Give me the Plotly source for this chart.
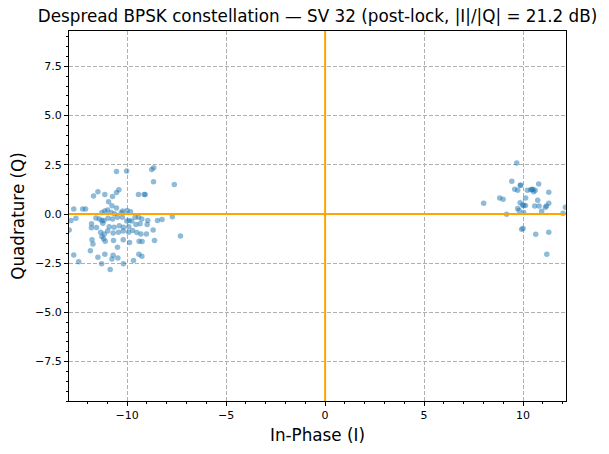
import plotly.graph_objects as go

# In-phase / quadrature samples, negative-bit cluster
i_neg = [-10.54, -10.03, -8.76, -8.66, -8.67, -7.62, -11.70, -11.48, -11.13, -10.54,
         -10.42, -10.74, -9.43, -9.14, -9.09, -10.94, -10.77, -12.25, -12.10, -12.70,
         -11.13, -10.99, -10.54, -10.22, -10.00, -9.83, -11.28, -10.81, -10.64, -10.30,
         -12.84, -12.59, -11.58, -11.41, -11.28, -11.18, -10.97, -10.74, -10.49, -10.24,
         -10.02, -9.90, -9.77, -9.60, -9.43, -9.26, -8.96, -8.47, -8.24, -7.72,
         -11.80, -11.23, -10.91, -10.66, -10.40, -10.19, -9.92, -9.56, -9.35, -8.99,
         -11.81, -11.55, -11.34, -11.16, -10.99, -10.71, -10.44, -10.20, -9.93, -9.73,
         -9.51, -9.31, -9.03, -8.69, -12.93, -11.78, -11.73, -11.28, -11.19, -11.11,
         -10.69, -10.20, -9.88, -9.40, -9.25, -8.62, -7.31, -11.86, -11.48, -11.13,
         -10.77, -10.71, -10.49, -10.47, -10.19, -9.68, -9.41, -9.26, -12.70, -12.45,
         -11.29, -10.86]
q_neg = [2.16, 2.19, 2.26, 2.35, 1.64, 1.50, 0.92, 1.13, 0.99, 1.09,
         1.23, 0.89, 0.99, 0.99, 0.99, 0.62, 0.42, 0.26, 0.26, 0.25,
         0.16, 0.21, 0.31, 0.16, 0.18, 0.11, 0.08, 0.08, 0.01, 0.08,
         -0.33, -0.21, -0.20, -0.25, -0.33, -0.33, -0.21, -0.25, -0.16, -0.16,
         -0.36, -0.33, -0.36, -0.16, -0.16, -0.25, -0.33, -0.33, -0.28, -0.14,
         -0.50, -0.47, -0.64, -0.67, -0.60, -0.67, -0.64, -0.53, -0.50, -0.53,
         -0.70, -0.69, -0.92, -1.01, -0.86, -0.97, -0.92, -0.86, -0.92, -0.84,
         -0.94, -1.01, -1.01, -0.81, -0.81, -1.31, -1.52, -1.14, -1.26, -1.38,
         -1.35, -1.31, -1.45, -1.38, -1.40, -1.35, -1.11, -1.86, -2.19, -2.04,
         -2.28, -2.09, -1.69, -2.23, -2.53, -2.36, -2.04, -2.14, -2.08, -2.42,
         -2.53, -2.82]

# Positive-bit cluster
i_pos = [9.68, 9.43, 9.88, 9.58, 9.73, 10.22, 10.39, 10.49, 10.54, 10.61,
         10.79, 11.30, 8.82, 8.99, 8.01, 10.13, 9.85, 10.12, 9.98, 9.73,
         9.80, 10.03, 10.74, 10.59, 10.81, 11.13, 11.18, 11.30, 10.94, 9.17,
         10.00, 9.93, 10.64, 11.30, 11.20, 12.14, 12.02, 10.45, 10.03, 9.86]
q_pos = [2.59, 1.67, 1.47, 1.26, 1.21, 1.21, 1.23, 1.26, 1.13, 1.21,
         1.52, 1.11, 0.81, 0.75, 0.55, 0.81, 0.57, 0.43, 0.46, 0.28,
         0.18, 0.08, 0.70, 0.41, 0.41, 0.35, 0.41, 0.55, 0.14, -0.01,
         -0.74, -0.77, -1.03, -0.92, -2.04, 0.35, 0.04, 1.25, 0.43, 1.45]

x_ticks = [-10, -5, 0, 5, 10]
y_ticks = [-7.5, -5.0, -2.5, 0.0, 2.5, 5.0, 7.5]
x_range = [-12.94, 12.17]
y_range = [-9.5, 9.3]

title = "Despread BPSK constellation — SV 32 (post-lock, |I|/|Q| = 21.2 dB)"

fig = go.Figure()
fig.add_trace(go.Scatter(
    x=i_neg + i_pos, y=q_neg + q_pos, mode="markers",
    marker=dict(size=5.5, color="#1f77b4", opacity=0.5, line=dict(width=0)),
    showlegend=False, cliponaxis=True,
))

# reference axes lines at zero
fig.add_shape(type="line", xref="paper", yref="y", x0=0, x1=1, y0=0, y1=0,
              line=dict(color="#FFA500", width=2))
fig.add_shape(type="line", xref="x", yref="paper", x0=0, x1=0, y0=0, y1=1,
              line=dict(color="#FFA500", width=2))

axis_common = dict(
    showline=True, linecolor="black", linewidth=1, mirror=True,
    ticks="outside", ticklen=4, tickwidth=1, tickcolor="black",
    showgrid=True, gridcolor="#b0b0b0", gridwidth=1, griddash="4px,2px",
    zeroline=False,
    tickfont=dict(family="DejaVu Sans", size=11, color="black"),
)

fig.update_xaxes(
    range=x_range, tickmode="array", tickvals=x_ticks,
    ticktext=[("−" + str(abs(v))) if v < 0 else str(v) for v in x_ticks],
    minor=dict(dtick=1, tick0=0, ticks="outside", ticklen=2, tickcolor="black", showgrid=False),
    title=dict(text="In-Phase (I)", font=dict(family="DejaVu Sans", size=16.8, color="black"), standoff=8),
    **axis_common,
)
fig.update_yaxes(
    range=y_range, tickmode="array", tickvals=y_ticks,
    ticktext=[("−" + f"{abs(v):.1f}") if v < 0 else f"{v:.1f}" for v in y_ticks],
    minor=dict(dtick=0.5, tick0=0, ticks="outside", ticklen=2, tickcolor="black", showgrid=False),
    title=dict(text="Quadrature (Q)", font=dict(family="DejaVu Sans", size=16.8, color="black"), standoff=6),
    **axis_common,
)

fig.update_layout(
    width=609, height=454,
    margin=dict(l=69, r=43, t=31, b=53),
    paper_bgcolor="white", plot_bgcolor="white",
    title=dict(text=title, x=0.5, xref="paper", xanchor="center",
               y=1 - 16 / 454, yref="container", yanchor="middle",
               font=dict(family="DejaVu Sans", size=16.8, color="black")),
    font=dict(family="DejaVu Sans"),
)

fig.write_html("out.html")
